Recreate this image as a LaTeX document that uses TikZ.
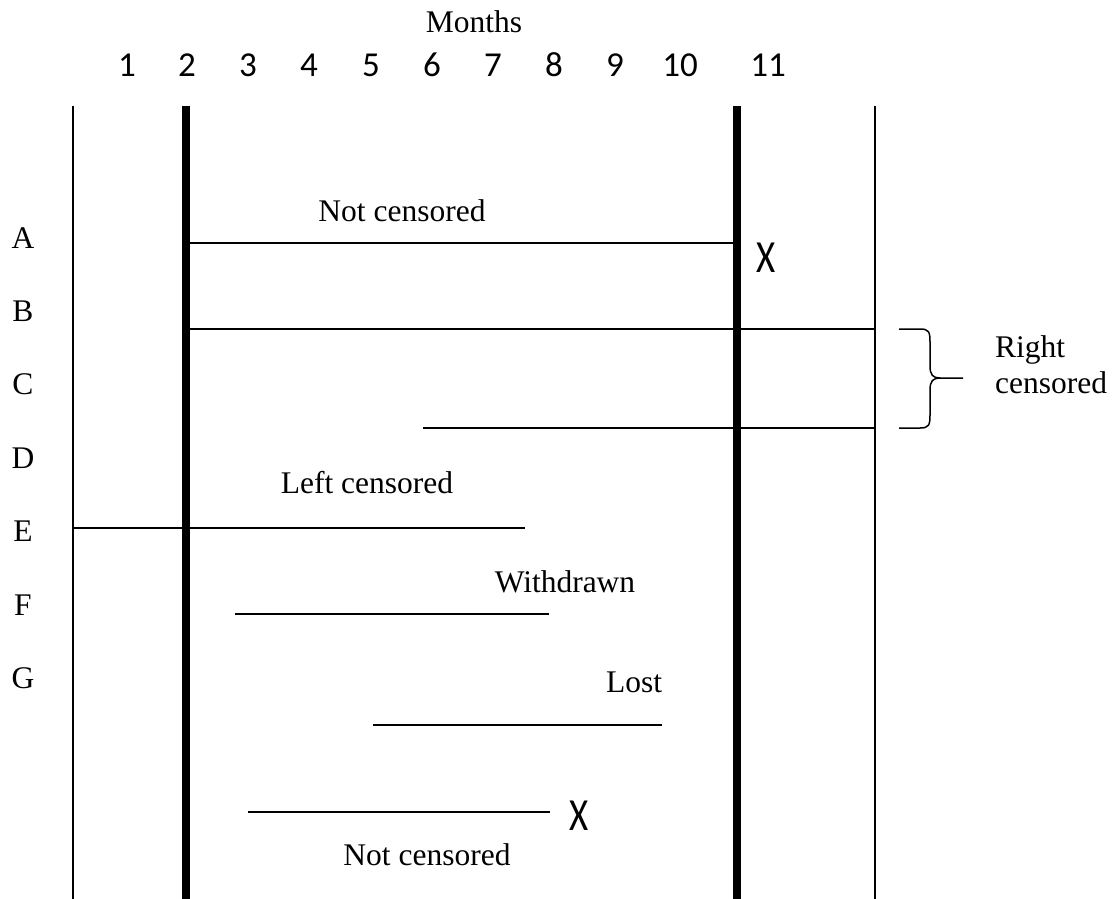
\documentclass[tikz,border=0pt]{standalone}
\usepackage{fontspec}
\setmainfont{Liberation Serif}
\newfontfamily\calfont{Carlito}
\begin{document}
\begin{tikzpicture}[x=1pt,y=-1pt,
  lbl/.style={font=\fontsize{31.5}{36}\selectfont, inner sep=0pt, anchor=base},
  num/.style={font=\calfont\fontsize{35}{40}\selectfont, inner sep=0pt, anchor=base},
  cross/.style={font=\calfont\fontsize{46}{50}\selectfont, inner sep=0pt, xscale=0.8},
  thin/.style={line width=1.8pt},
  bar/.style={line width=7.5pt},
  seg/.style={line width=1.8pt}]
\useasboundingbox (0,0) rectangle (1117,899);

% title and month scale
\node[lbl] (months) at (474,33) {Months};
\foreach \m/\x in {1/127,2/187,3/248,4/309,5/371,6/432,7/493,8/554,9/615,10/680,11/768}
  \node[num] (m\m) at (\x,77) {\m};

% subject labels
\foreach \s [count=\i from 0] in {A,B,C,D,E,F,G}
  \node[lbl] (s\s) at (23,{248+73.4*\i}) {\s};

% study window boundaries
\coordinate (v1t) at (73,106);  \coordinate (v1b) at (73,899);
\coordinate (v2t) at (186,106); \coordinate (v2b) at (186,899);
\coordinate (v3t) at (737,106); \coordinate (v3b) at (737,899);
\coordinate (v4t) at (875,106); \coordinate (v4b) at (875,899);
\draw[thin] (v1t) -- (v1b);
\draw[bar]  (v2t) -- (v2b);
\draw[bar]  (v3t) -- (v3b);
\draw[thin] (v4t) -- (v4b);

% follow-up segments
\coordinate (a1) at (186,243); \coordinate (a2) at (737,243);
\coordinate (b1) at (186,329); \coordinate (b2) at (875,329);
\coordinate (d1) at (423,428); \coordinate (d2) at (875,428);
\coordinate (e1) at (73,528);  \coordinate (e2) at (525,528);
\coordinate (f1) at (235,614); \coordinate (f2) at (549,614);
\coordinate (g1) at (373,725); \coordinate (g2) at (662,725);
\coordinate (h1) at (248,812); \coordinate (h2) at (550,812);
\draw[seg] (a1) -- (a2);
\draw[seg] (b1) -- (b2);
\draw[seg] (d1) -- (d2);
\draw[seg] (e1) -- (e2);
\draw[seg] (f1) -- (f2);
\draw[seg] (g1) -- (g2);
\draw[seg] (h1) -- (h2);

% events
\node[cross] (x1) at (766,258) {X};
\node[cross] (x2) at (579,816) {X};

% annotations
\node[lbl] (nc1) at (402,221) {Not censored};
\node[lbl] (lc) at (367,493) {Left censored};
\node[lbl] (wd) at (565,592) {Withdrawn};
\node[lbl] (lost) at (634,692) {Lost};
\node[lbl] (nc2) at (427,865) {Not censored};
\node[lbl, anchor=base west] (rc1) at (995,357) {Right};
\node[lbl, anchor=base west] (rc2) at (995,393) {censored};

% brace grouping the right-censored subjects
\coordinate (br1) at (899,329);
\coordinate (br2) at (899,428);
\coordinate (brtip) at (963,378);
\draw[line width=1.5pt]
  (br1) -- (920,329) .. controls (929,329) and (930,332) .. (930,342)
  -- (930,366) .. controls (930,375) and (933,378) .. (940,378) -- (brtip);
\draw[line width=1.5pt]
  (br2) -- (920,428) .. controls (929,428) and (930,425) .. (930,415)
  -- (930,390) .. controls (930,381) and (933,378) .. (940,378);
\end{tikzpicture}
\end{document}
